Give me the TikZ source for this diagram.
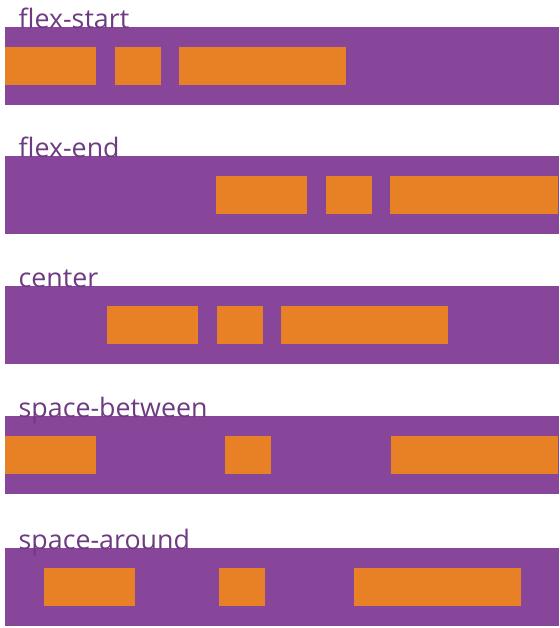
\documentclass[tikz,border=0pt]{standalone}
\usepackage{fontspec}
\setmainfont{Open Sans}
\usepackage{tikz}
\usetikzlibrary{positioning}
\usepackage{color}
\definecolor{flexpurple}{HTML}{88469B}
\definecolor{flexorange}{HTML}{E88125}
\definecolor{labelpurple}{HTML}{6E3A80}

\begin{document}
\begin{tikzpicture}[x=1pt,y=-1pt,
    container/.style={fill=flexpurple, inner sep=0, outer sep=0,
        minimum width=554pt, minimum height=78pt, anchor=north west},
    flexitem/.style={fill=flexorange, inner sep=0, outer sep=0,
        minimum width=#1, minimum height=38pt, anchor=north west},
    rowlabel/.style={text=labelpurple, inner sep=0, anchor=base west,
        font=\fontsize{26.8}{30}\selectfont}]
\useasboundingbox (0,0) rectangle (559,628);

% flex-start
\node[container] (bar1) at (5,27) {};
\node[rowlabel] (lbl1) at (18.5,28.5) {flex-start};
\node[flexitem=91pt] (a1) at (5,47) {};
\node[flexitem=46pt,
    right= 18.5pt of a1] (b1) {};
\node[flexitem=167pt,
    right= 18.5pt of b1] (c1) {};

% flex-end
\node[container] (bar2) at (5,156) {};
\node[rowlabel] (lbl2) at (18.5,157.5) {flex-end};
\node[flexitem=91pt] (a2) at (216,176) {};
\node[flexitem=46pt,
    right= 18.5pt of a2] (b2) {};
\node[flexitem=167.5pt,
    right= 18.5pt of b2] (c2) {};

% center
\node[container] (bar3) at (5,286) {};
\node[rowlabel] (lbl3) at (18.5,287.5) {center};
\node[flexitem=91pt] (a3) at (107,306) {};
\node[flexitem=46pt,
    right= 18.5pt of a3] (b3) {};
\node[flexitem=167pt,
    right= 18.5pt of b3] (c3) {};

% space-between
\node[container] (bar4) at (5,416) {};
\node[rowlabel] (lbl4) at (18.5,417.5) {space-between};
\node[flexitem=91pt] (a4) at (5,436) {};
\node[flexitem=46pt] (b4) at (225,436) {};
\node[flexitem=167pt] (c4) at (391,436) {};

% space-around
\node[container] (bar5) at (5,548) {};
\node[rowlabel] (lbl5) at (18.5,549.5) {space-around};
\node[flexitem=91pt] (a5) at (44,568) {};
\node[flexitem=46pt] (b5) at (219,568) {};
\node[flexitem=167pt] (c5) at (354,568) {};

\end{tikzpicture}
\end{document}
